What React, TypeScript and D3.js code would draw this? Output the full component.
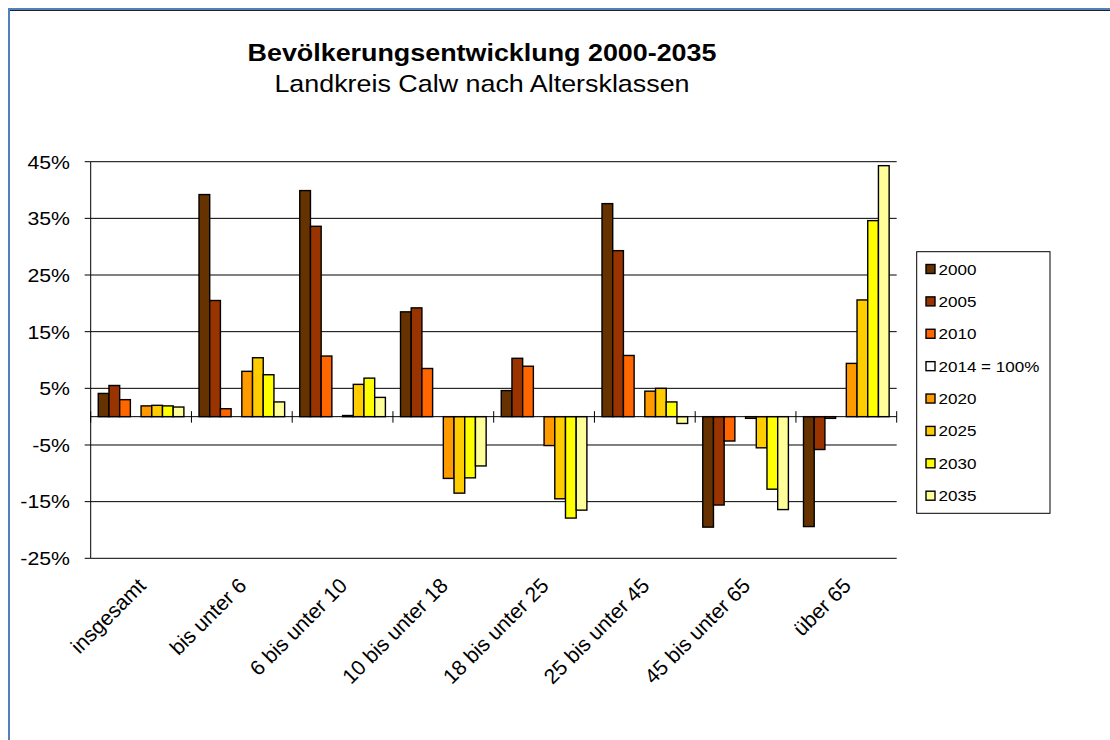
import React from "react";
import * as d3 from "d3";

const categories = [
  "insgesamt",
  "bis unter 6",
  "6 bis unter 10",
  "10 bis unter 18",
  "18 bis unter 25",
  "25 bis unter 45",
  "45 bis unter 65",
  "über 65",
];

const seriesNames = ["2000", "2005", "2010", "2014 = 100%", "2020", "2025", "2030", "2035"];
const seriesColors = ["#663300", "#993300", "#FF6600", "#FFFFFF", "#FF9900", "#FFCC00", "#FFFF00", "#FFFF99"];

const v2000 = [4.1, 39.2, 39.9, 18.5, 4.6, 37.6, -19.5, -19.4];
const v2005 = [5.5, 20.5, 33.6, 19.2, 10.3, 29.3, -15.6, -5.8];
const v2010 = [3.0, 1.4, 10.7, 8.5, 8.9, 10.8, -4.3, -0.3];
const v2014 = [0, 0, 0, 0, 0, 0, 0, 0];
const v2020 = [1.9, 8.0, 0.2, -10.9, -5.1, 4.5, -0.3, 9.4];
const v2025 = [2.0, 10.4, 5.7, -13.5, -14.5, 5.0, -5.5, 20.6];
const v2030 = [1.9, 7.4, 6.8, -10.8, -17.9, 2.6, -12.8, 34.6];
const v2035 = [1.7, 2.6, 3.4, -8.7, -16.5, -1.2, -16.4, 44.3];

const seriesValues = [v2000, v2005, v2010, v2014, v2020, v2025, v2030, v2035];

const yTicks = [45, 35, 25, 15, 5, -5, -15, -25];

const FONT = "'Liberation Sans', Arial, sans-serif";

const App = () => {
  const width = 1110;
  const height = 740;
  const plot = { left: 90.7, right: 896.7, top: 161.7, bottom: 558.3 };

  const y = d3.scaleLinear().domain([-25, 45]).range([plot.bottom, plot.top]);
  const x0 = d3.scaleBand().domain(categories).range([plot.left, plot.right]);
  const bw = x0.bandwidth();
  const gap = bw * 0.15;
  const x1 = d3.scaleBand().domain(seriesNames).range([gap / 2, bw - gap / 2]);

  const legendRowY = d3.scaleLinear().domain([0, 7]).range([269, 495.7]);

  return (
    <div style={{ position: "absolute", left: 0, top: 0 }}>
      <svg width={width} height={height} style={{ display: "block", background: "#fff" }}>
        {/* frame */}
        <line x1={8} y1={9} x2={width} y2={9} stroke="#4F81BD" strokeWidth={2} />
        <line x1={9} y1={8} x2={9} y2={height} stroke="#4F81BD" strokeWidth={2} />
        <line x1={10} y1={10.5} x2={width} y2={10.5} stroke="#222" strokeWidth={1} />

        {/* title */}
        <text
          x={482}
          y={61}
          textAnchor="middle"
          fontFamily={FONT}
          fontWeight="bold"
          fontSize={24}
          transform="translate(482,0) scale(1.12,1) translate(-482,0)"
        >
          Bevölkerungsentwicklung 2000-2035
        </text>
        <text
          x={482}
          y={92}
          textAnchor="middle"
          fontFamily={FONT}
          fontSize={24}
          transform="translate(482,0) scale(1.12,1) translate(-482,0)"
        >
          Landkreis Calw nach Altersklassen
        </text>

        {/* gridlines */}
        {yTicks.map((t) => (
          <g key={t}>
            <line x1={plot.left} x2={plot.right} y1={y(t)} y2={y(t)} stroke="#000" strokeWidth={1} />
            <line x1={plot.left - 6} x2={plot.left} y1={y(t)} y2={y(t)} stroke="#000" strokeWidth={1} />
            <text
              x={70}
              y={y(t)}
              dy="0.36em"
              textAnchor="end"
              fontFamily={FONT}
              fontSize={19}
              transform={`translate(70,0) scale(1.12,1) translate(-70,0)`}
            >
              {t}%
            </text>
          </g>
        ))}

        {/* bars */}
        {categories.map((c, ci) => (
          <g key={c} transform={`translate(${x0(c)},0)`}>
            {seriesNames.map((s, si) => {
              const v = seriesValues[si][ci];
              if (v === 0) return null;
              return (
                <rect
                  key={s}
                  x={x1(s)}
                  y={y(Math.max(0, v))}
                  width={x1.bandwidth()}
                  height={Math.abs(y(v) - y(0))}
                  fill={seriesColors[si]}
                  stroke="#000"
                  strokeWidth={1.4}
                />
              );
            })}
          </g>
        ))}

        {/* axes */}
        <line x1={plot.left} x2={plot.left} y1={plot.top} y2={plot.bottom} stroke="#000" strokeWidth={1} />
        <line x1={plot.left} x2={plot.right} y1={y(0)} y2={y(0)} stroke="#000" strokeWidth={1} />
        {[...categories.map((c) => x0(c) as number), plot.right].map((xv, i) => (
          <line key={i} x1={xv} x2={xv} y1={y(0) - 5.5} y2={y(0) + 6} stroke="#000" strokeWidth={1} />
        ))}

        {/* category labels */}
        {categories.map((c) => {
          const cx = (x0(c) as number) + bw / 2;
          return (
            <text
              key={c}
              transform={`translate(${cx + 6},${587}) rotate(-45)`}
              textAnchor="end"
              fontFamily={FONT}
              fontSize={21}
            >
              {c}
            </text>
          );
        })}

        {/* legend */}
        <rect x={916.7} y={251.7} width={133.3} height={261.6} fill="#fff" stroke="#000" strokeWidth={1} />
        {seriesNames.map((s, i) => (
          <g key={s}>
            <rect
              x={926}
              y={legendRowY(i) - 4.5}
              width={9}
              height={9}
              fill={seriesColors[i]}
              stroke="#000"
              strokeWidth={1.4}
            />
            <text
              x={938.5}
              y={legendRowY(i)}
              dy="0.36em"
              fontFamily={FONT}
              fontSize={15.5}
              transform={`translate(938.5,0) scale(1.1,1) translate(-938.5,0)`}
            >
              {s}
            </text>
          </g>
        ))}
      </svg>
    </div>
  );
};

export default App;
